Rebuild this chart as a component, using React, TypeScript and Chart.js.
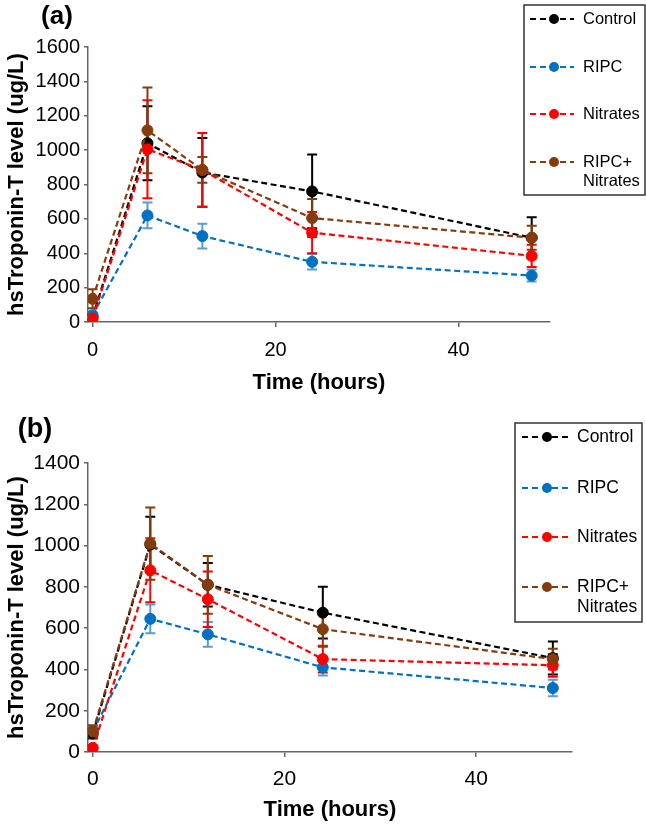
import React, { useEffect, useRef } from 'react';
import { Chart, registerables } from 'chart.js';

Chart.register(...registerables);

// ---------- data ----------
const hours = [0, 6, 12, 24, 48];
const xTickValues = [0, 20, 40];
const seriesNames = ['Control', 'RIPC', 'Nitrates', 'RIPC+ Nitrates'];
const legendLines = [['Control'], ['RIPC'], ['Nitrates'], ['RIPC+', 'Nitrates']];
const seriesColors = ['#000000', '#0070C0', '#FF0000', '#843C0C'];
const errorColors = ['#000000', '#5B9BD5', '#FF0000', '#843C0C'];

// Panel (a)
const controlA = [30, 1040, 870, 760, 490];
const controlAErr = [15, 215, 200, 215, 120];
const ripcA = [40, 620, 500, 350, 270];
const ripcAErr = [15, 75, 72, 45, 35];
const nitratesA = [20, 1005, 885, 520, 385];
const nitratesAErr = [10, 285, 215, 120, 65];
const ripcNitratesA = [135, 1115, 885, 605, 490];
const ripcNitratesAErr = [55, 250, 75, 110, 70];

// Panel (b)
const controlB = [90, 1005, 810, 675, 455];
const controlBErr = [25, 135, 105, 125, 80];
const ripcB = [100, 645, 570, 410, 310];
const ripcBErr = [25, 70, 60, 40, 40];
const nitratesB = [20, 880, 740, 450, 420];
const nitratesBErr = [10, 155, 135, 65, 55];
const ripcNitratesB = [100, 1010, 810, 595, 450];
const ripcNitratesBErr = [30, 175, 140, 85, 50];

const FONT = "'Liberation Sans', Arial, sans-serif";
const AXIS_COLOR = '#666666';

// ---------- plugins ----------
const errorBarPlugin = {
  id: 'errorBars',
  beforeDatasetsDraw(chart: any) {
    const ctx = chart.ctx;
    const xs = chart.scales.x;
    const ys = chart.scales.y;
    chart.data.datasets.forEach((ds: any) => {
      ctx.save();
      ctx.strokeStyle = ds.errorColor;
      ctx.lineWidth = 2;
      ctx.setLineDash([]);
      ds.data.forEach((pt: any, j: number) => {
        const e = ds.errors[j];
        const x = xs.getPixelForValue(pt.x);
        const yt = ys.getPixelForValue(pt.y + e);
        const yb = ys.getPixelForValue(Math.max(pt.y - e, 0));
        ctx.beginPath();
        ctx.moveTo(x, yt);
        ctx.lineTo(x, yb);
        ctx.moveTo(x - 5, yt);
        ctx.lineTo(x + 5, yt);
        ctx.moveTo(x - 5, yb);
        ctx.lineTo(x + 5, yb);
        ctx.stroke();
      });
      ctx.restore();
    });
  },
};

const boxLegendPlugin = {
  id: 'boxLegend',
  afterDraw(chart: any, _args: any, opts: any) {
    const ctx = chart.ctx;
    ctx.save();
    ctx.fillStyle = '#ffffff';
    ctx.fillRect(opts.left, opts.top, opts.right - opts.left, opts.bottom - opts.top);
    ctx.strokeStyle = '#333333';
    ctx.lineWidth = 1.5;
    ctx.setLineDash([]);
    ctx.strokeRect(opts.left, opts.top, opts.right - opts.left, opts.bottom - opts.top);
    chart.data.datasets.forEach((ds: any, i: number) => {
      const y = opts.rows[i];
      ctx.strokeStyle = ds.borderColor;
      ctx.lineWidth = 2.2;
      ctx.setLineDash([6, 4]);
      ctx.beginPath();
      ctx.moveTo(opts.sampleLeft, y);
      ctx.lineTo(opts.sampleRight, y);
      ctx.stroke();
      ctx.setLineDash([]);
      ctx.fillStyle = ds.borderColor;
      ctx.beginPath();
      ctx.arc(opts.marker, y, 5, 0, Math.PI * 2);
      ctx.fill();
      ctx.fillStyle = '#000000';
      ctx.font = `${opts.fontSize}px ${FONT}`;
      ctx.textAlign = 'left';
      ctx.textBaseline = 'middle';
      legendLines[i].forEach((t, k) => {
        ctx.fillText(t, opts.textX, y + k * opts.lineGap);
      });
    });
    ctx.restore();
  },
};

const panelLabelPlugin = {
  id: 'panelLabel',
  afterDraw(chart: any, _args: any, opts: any) {
    const ctx = chart.ctx;
    ctx.save();
    ctx.fillStyle = '#000000';
    ctx.font = `bold ${opts.size}px ${FONT}`;
    ctx.textAlign = 'center';
    ctx.textBaseline = 'middle';
    ctx.fillText(opts.text, opts.x, opts.y);
    ctx.restore();
  },
};

// ---------- panels ----------
type PanelCfg = {
  label: string;
  labelX: number;
  labelY: number;
  labelSize: number;
  values: number[][];
  errors: number[][];
  yMax: number;
  padTop: number;
  padRight: number;
  padBottom: number;
  xHeight: number;
  tickSize: number;
  xTickPad: number;
  legend: any;
};

const panels: PanelCfg[] = [
  {
    label: '(a)',
    labelX: 57,
    labelY: 17,
    labelSize: 26,
    values: [controlA, ripcA, nitratesA, ripcNitratesA],
    errors: [controlAErr, ripcAErr, nitratesAErr, ripcNitratesAErr],
    yMax: 1600,
    padTop: 47,
    padRight: 96,
    padBottom: 18,
    xHeight: 75,
    tickSize: 20,
    xTickPad: 11,
    legend: {
      left: 524, top: 5, right: 645, bottom: 195,
      rows: [19, 67, 114, 162], lineGap: 19, fontSize: 16.5,
      sampleLeft: 530, sampleRight: 574, marker: 554, textX: 583,
    },
  },
  {
    label: '(b)',
    labelX: 35,
    labelY: 15,
    labelSize: 27,
    values: [controlB, ripcB, nitratesB, ripcNitratesB],
    errors: [controlBErr, ripcBErr, nitratesBErr, ripcNitratesBErr],
    yMax: 1400,
    padTop: 48,
    padRight: 74,
    padBottom: 6,
    xHeight: 72,
    tickSize: 21,
    xTickPad: 10,
    legend: {
      left: 515, top: 8, right: 642, bottom: 207,
      rows: [22, 73, 122, 172], lineGap: 20, fontSize: 17.5,
      sampleLeft: 522, sampleRight: 568, marker: 547, textX: 577,
    },
  },
];

function Panel({ cfg }: { cfg: PanelCfg }) {
  const ref = useRef<HTMLCanvasElement>(null);
  useEffect(() => {
    const chart = new Chart(ref.current as HTMLCanvasElement, {
      type: 'line',
      data: {
        datasets: cfg.values.map((vals, i) => ({
          label: seriesNames[i],
          data: hours.map((h, j) => ({ x: h, y: vals[j] })),
          errors: cfg.errors[i],
          errorColor: errorColors[i],
          borderColor: seriesColors[i],
          backgroundColor: seriesColors[i],
          pointBackgroundColor: seriesColors[i],
          pointBorderColor: seriesColors[i],
          pointRadius: 5.5,
          pointBorderWidth: 1,
          borderWidth: 2.2,
          borderDash: [6, 3.5],
          tension: 0,
          fill: false,
          order: 4 - i,
        })) as any,
      },
      options: {
        responsive: false,
        animation: false,
        layout: { padding: { left: 0, top: cfg.padTop, right: cfg.padRight, bottom: cfg.padBottom } },
        plugins: {
          legend: { display: false },
          tooltip: { enabled: false },
          boxLegend: cfg.legend,
          panelLabel: { text: cfg.label, x: cfg.labelX, y: cfg.labelY, size: cfg.labelSize },
        } as any,
        scales: {
          x: {
            type: 'linear',
            min: -0.5,
            max: 50,
            afterBuildTicks: (s: any) => {
              s.ticks = xTickValues.map((v) => ({ value: v }));
            },
            afterFit: (s: any) => {
              s.height = cfg.xHeight;
            },
            grid: { drawOnChartArea: false, drawTicks: true, tickLength: 5, color: AXIS_COLOR, lineWidth: 1.5 },
            border: { display: true, color: AXIS_COLOR, width: 1.5 },
            ticks: {
              color: '#000000',
              font: { family: FONT, size: cfg.tickSize },
              padding: cfg.xTickPad,
              maxRotation: 0,
              callback: (v: any) => String(v),
            },
            title: {
              display: true,
              text: 'Time (hours)',
              color: '#000000',
              font: { family: FONT, size: 22, weight: 'bold' },
              padding: { top: 0, bottom: 1 },
            },
          },
          y: {
            type: 'linear',
            min: 0,
            max: cfg.yMax,
            afterFit: (s: any) => {
              s.width = 88;
            },
            grid: { drawOnChartArea: false, drawTicks: true, tickLength: 4, color: AXIS_COLOR, lineWidth: 1.5 },
            border: { display: true, color: AXIS_COLOR, width: 1.5 },
            ticks: {
              stepSize: 200,
              color: '#000000',
              font: { family: FONT, size: cfg.tickSize },
              padding: 4,
              callback: (v: any) => String(v),
            },
            title: {
              display: true,
              text: 'hsTroponin-T level (ug/L)',
              color: '#000000',
              font: { family: FONT, size: 22, weight: 'bold' },
              padding: { top: 4, bottom: 0 },
            },
          },
        } as any,
      },
      plugins: [errorBarPlugin, boxLegendPlugin, panelLabelPlugin],
    });
    return () => chart.destroy();
  }, [cfg]);
  return (
    <canvas
      ref={ref}
      width={646}
      height={415}
      style={{ display: 'block', width: 646, height: 415 }}
    />
  );
}

export default function App() {
  return (
    <div style={{ position: 'absolute', left: 0, top: 0, width: 646, height: 830, background: '#ffffff' }}>
      {panels.map((p) => (
        <Panel key={p.label} cfg={p} />
      ))}
    </div>
  );
}
